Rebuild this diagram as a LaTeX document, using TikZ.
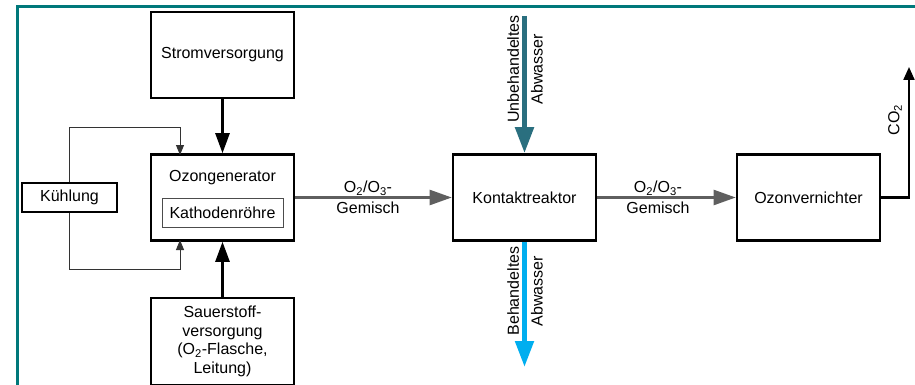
\documentclass[tikz,border=0pt]{standalone}
\usepackage{fontspec}
\setmainfont{Liberation Sans}
\usetikzlibrary{arrows.meta}
\definecolor{frameteal}{HTML}{00787A}
\definecolor{inteal}{HTML}{2A6F7F}
\definecolor{outblue}{HTML}{00AEEF}
\definecolor{flowgray}{HTML}{5F5F5F}
\begin{document}
\begin{tikzpicture}[x=1pt,y=-1pt,
  every node/.style={font=\fontsize{16}{18.7}\selectfont, inner sep=0pt},
  blk/.style={draw=black, line width=2.6pt, minimum width=143pt, minimum height=86pt, align=center},
  thinbox/.style={draw=black!70, line width=0.9pt, minimum width=121pt, minimum height=29pt},
  bigarrow/.style={line width=2.6pt, -{Triangle[length=20pt,width=14pt]}},
  smallarrow/.style={line width=0.9pt, black!80, -{Triangle[length=10pt,width=8pt]}},
  grayarrow/.style={line width=2.4pt, flowgray, -{Triangle[length=22pt,width=15pt]}},
  lbl/.style={align=center}]
\useasboundingbox (0,0) rectangle (915,385);
\draw[frameteal, line width=3pt] (17,390) -- (17,7) -- (920,7);

\node[blk] (strom) at (222.5,55) {Stromversorgung};
\node[blk] (ozg) at (222.5,197.5) {};
\node at (222.5,178) {Ozongenerator};
\node[thinbox] (kath) at (222.5,212.5) {Kathodenröhre};
\node[blk, minimum height=87pt] (sauer) at (222.5,341.5) {Sauerstoff-\\versorgung\\(O\textsubscript{2}-Flasche,\\Leitung)};
\node[draw=black, line width=2.6pt, minimum width=95pt, minimum height=29pt] (kuehl) at (69.5,197.5) {Kühlung};
\node[blk] (kontakt) at (524.5,197.5) {Kontaktreaktor};
\node[blk] (vern) at (808.5,197.5) {Ozonvernichter};

\draw[bigarrow] (strom.south) -- (ozg.north);
\draw[bigarrow] (sauer.north) -- (ozg.south);

\coordinate (ktop) at (69.5,127);
\coordinate (kbot) at (69.5,269);
\draw[smallarrow] (kuehl.north) -- (ktop) -- (180,127) -- (180,155);
\draw[smallarrow] (kuehl.south) -- (kbot) -- (180,269) -- (180,240);

\draw[grayarrow] (ozg.east) -- (kontakt.west);
\node[lbl] at (368,197.5) {O\textsubscript{2}/O\textsubscript{3}-\\[2pt]Gemisch};
\draw[grayarrow] (kontakt.east) -- (vern.west);
\node[lbl] at (658,197.5) {O\textsubscript{2}/O\textsubscript{3}-\\[2pt]Gemisch};

\coordinate (co2top) at (909,67);
\draw[line width=2.2pt, -{Triangle[length=13pt,width=11pt]}] (vern.east) -- (909,197.5) -- (co2top);
\node[rotate=90] at (895,120) {CO\textsubscript{2}};

\coordinate (instart) at (524.5,16);
\draw[inteal, line width=5pt, -{Triangle[length=26pt,width=18pt]}] (instart) -- (kontakt.north);
\node[lbl, rotate=90] at (525,69) {Unbehandeltes\\[5pt]Abwasser};

\coordinate (outend) at (524.5,367);
\draw[outblue, line width=5pt, -{Triangle[length=26pt,width=18pt]}] (kontakt.south) -- (outend);
\node[lbl, rotate=90] at (525,291) {Behandeltes\\[5pt]Abwasser};
\end{tikzpicture}
\end{document}
